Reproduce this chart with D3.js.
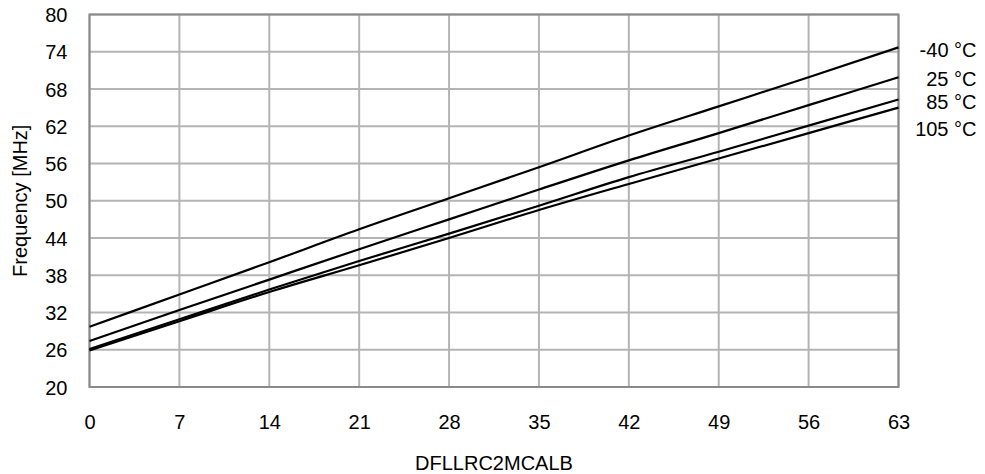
<!DOCTYPE html>
<html>
<head>
<meta charset="utf-8">
<script src="https://cdn.jsdelivr.net/npm/d3@7"></script>
<style>
  body { margin: 0; background: #fff; }
  svg { display: block; font-family: "Liberation Sans", Arial, sans-serif; }
</style>
</head>
<body>
<div id="chart"></div>
<script>
// DFLLRC2MCALB setting vs frequency, one series per temperature
const codes = [0, 7, 14, 21, 28, 35, 42, 49, 56, 63];
const yTicks = [20, 26, 32, 38, 44, 50, 56, 62, 68, 74, 80];
const seriesNames = ['-40 °C', '25 °C', '85 °C', '105 °C'];
const freqM40 = [29.7, 34.9, 40.1, 45.4, 50.4, 55.4, 60.5, 65.2, 69.9, 74.7];
const freq25 = [27.4, 32.4, 37.3, 42.2, 47.0, 51.8, 56.5, 60.9, 65.4, 69.9];
const freq85 = [26.1, 30.9, 35.7, 40.3, 44.7, 49.2, 53.8, 57.9, 62.1, 66.3];
const freq105 = [25.9, 30.6, 35.3, 39.6, 44.0, 48.5, 52.7, 56.8, 60.9, 65.0];

const seriesValues = [freqM40, freq25, freq85, freq105];
// label nudges so the two lower labels don't overlap
const labelDy = [3, 2, 2, 21];

const W = 985, H = 474;
const margin = { top: 14.5, right: 86.5, bottom: 87, left: 89.5 };
const width = W - margin.left - margin.right;
const height = H - margin.top - margin.bottom;

const svg = d3.select('#chart').append('svg')
    .attr('width', W)
    .attr('height', H);

const g = svg.append('g')
    .attr('transform', `translate(${margin.left},${margin.top})`);

const x = d3.scaleLinear().domain([0, 63]).range([0, width]);
const y = d3.scaleLinear().domain([20, 80]).range([height, 0]);

// grid
g.append('g')
    .selectAll('line')
    .data(codes)
    .join('line')
    .attr('x1', d => x(d)).attr('x2', d => x(d))
    .attr('y1', 0).attr('y2', height)
    .attr('stroke', '#b4b4b4')
    .attr('stroke-width', 2);

g.append('g')
    .selectAll('line')
    .data(yTicks)
    .join('line')
    .attr('x1', 0).attr('x2', width)
    .attr('y1', d => y(d)).attr('y2', d => y(d))
    .attr('stroke', '#b4b4b4')
    .attr('stroke-width', 2);

// frame
g.append('rect')
    .attr('width', width)
    .attr('height', height)
    .attr('fill', 'none')
    .attr('stroke', '#8a8a8a')
    .attr('stroke-width', 2);

// axes (labels only, lines drawn by grid/frame)
const xAxis = g.append('g')
    .attr('transform', `translate(0,${height})`)
    .call(d3.axisBottom(x).tickValues(codes).tickSize(0).tickPadding(0));
xAxis.select('.domain').remove();
xAxis.selectAll('text')
    .attr('y', 41.5)
    .attr('dy', 0)
    .attr('font-size', '20px')
    .attr('font-family', '"Liberation Sans", Arial, sans-serif')
    .attr('fill', '#000');

const yAxis = g.append('g')
    .call(d3.axisLeft(y).tickValues(yTicks).tickSize(0).tickPadding(22));
yAxis.select('.domain').remove();
yAxis.selectAll('text')
    .attr('dy', '0.35em')
    .attr('font-size', '20px')
    .attr('font-family', '"Liberation Sans", Arial, sans-serif')
    .attr('fill', '#000');

// lines
const line = d3.line()
    .x((d, i) => x(codes[i]))
    .y(d => y(d))
    .curve(d3.curveMonotoneX);

seriesValues.forEach((vals, idx) => {
    g.append('path')
        .datum(vals)
        .attr('fill', 'none')
        .attr('stroke', '#000')
        .attr('stroke-width', 2.2)
        .attr('d', line);

    const last = vals[vals.length - 1];
    g.append('text')
        .attr('x', width + 78)
        .attr('y', y(last) + labelDy[idx])
        .attr('dy', '0.35em')
        .attr('text-anchor', 'end')
        .attr('font-size', '20px')
        .attr('fill', '#000')
        .text(seriesNames[idx]);
});

// axis titles
svg.append('text')
    .attr('x', margin.left + width / 2)
    .attr('y', 470)
    .attr('text-anchor', 'middle')
    .attr('font-size', '20px')
    .attr('fill', '#000')
    .text('DFLLRC2MCALB');

svg.append('text')
    .attr('transform', `translate(26.5,${margin.top + height / 2}) rotate(-90)`)
    .attr('text-anchor', 'middle')
    .attr('font-size', '20px')
    .attr('fill', '#000')
    .text('Frequency [MHz]');
</script>
</body>
</html>
